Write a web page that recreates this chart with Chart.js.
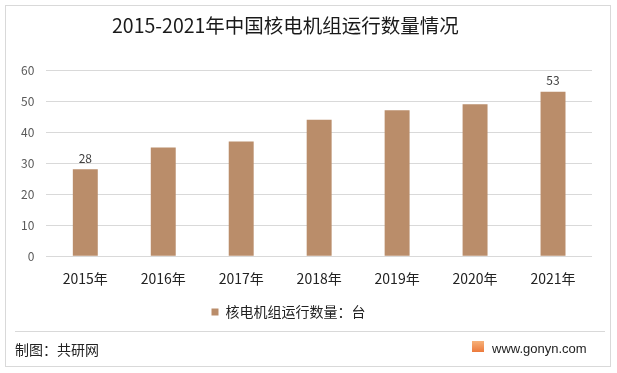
<!DOCTYPE html>
<html><head><meta charset="utf-8">
<script src="https://cdn.jsdelivr.net/npm/chart.js@4"></script>
<style>
html,body{margin:0;padding:0;background:#fff;}
body{width:617px;height:373px;position:relative;overflow:hidden;font-family:"Noto Sans CJK SC","Noto Sans",sans-serif;}
#frame{position:absolute;left:5px;top:5px;width:606px;height:362px;border:1px solid #D9D9D9;box-sizing:border-box;}
#title{position:absolute;left:112px;top:11px;font-size:19.5px;color:#1a1a1a;line-height:28px;white-space:nowrap;}
#sep{position:absolute;left:15px;top:331px;width:590px;height:1px;background:#D9D9D9;}
#src{position:absolute;left:15px;top:339px;font-size:14px;color:#222;line-height:20px;}
#site{position:absolute;left:492px;top:339px;font-size:13px;color:#222;line-height:20px;font-family:"Liberation Sans","DejaVu Sans",sans-serif;}
#icon{position:absolute;left:472px;top:341px;width:12px;height:11px;background:linear-gradient(#F7B27A,#EC7A3C);}
#wrap{position:absolute;left:0;top:0;width:617px;height:373px;}
</style></head>
<body>
<div id="frame"></div>
<div id="wrap"><canvas id="c" width="617" height="373"></canvas></div>
<div id="title">2015-2021年中国核电机组运行数量情况</div>
<div id="sep"></div>
<div id="src">制图：共研网</div>
<div id="icon"></div>
<div id="site">www.gonyn.com</div>
<script>
const categories = ["2015年","2016年","2017年","2018年","2019年","2020年","2021年"];
const seriesName = "核电机组运行数量：台";
const units = [28,35,37,44,47,49,53];
const labeledIndices = [0,6];
const yTicks = [0,10,20,30,40,50,60];

const valueLabels = {
  id:'valueLabels',
  afterDatasetsDraw(chart){
    const ctx = chart.ctx;
    const meta = chart.getDatasetMeta(0);
    ctx.save();
    ctx.font = '12px "Noto Sans CJK SC", sans-serif';
    ctx.fillStyle = '#404040';
    ctx.textAlign = 'center';
    ctx.textBaseline = 'bottom';
    labeledIndices.forEach(i=>{
      const el = meta.data[i];
      ctx.fillText(String(units[i]), el.x, el.y - 5);
    });
    ctx.restore();
  }
};

const legendShift = {
  id:'legendShift',
  afterLayout(chart){
    const lg = chart.legend;
    if (lg) { lg.left -= 12; lg.right -= 12; }
  }
};

new Chart(document.getElementById('c'),{
  type:'bar',
  data:{labels:categories,datasets:[{label:seriesName,data:units,backgroundColor:'#BA8D6A',borderWidth:0,barPercentage:0.64,categoryPercentage:0.5}]},
  options:{
    responsive:false,animation:false,
    layout:{padding:{left:9,right:25,top:70,bottom:44}},
    plugins:{
      legend:{position:'bottom',labels:{boxWidth:7,boxHeight:7,padding:12,color:'#222',font:{family:'"Noto Sans CJK SC", sans-serif',size:14}}},
      tooltip:{enabled:false},
      title:{display:false}
    },
    scales:{
      x:{grid:{display:false},border:{display:false},ticks:{padding:6,color:'#222',font:{family:'"Noto Sans CJK SC", sans-serif',size:14}}},
      y:{min:0,max:60,afterBuildTicks(ax){ax.ticks=yTicks.map(v=>({value:v}));},
         grid:{color:'#D9D9D9',drawTicks:false},border:{display:false},
         ticks:{padding:12,color:'#595959',font:{family:'"Noto Sans CJK SC", sans-serif',size:12}}}
    }
  },
  plugins:[valueLabels, legendShift]
});
</script>
</body></html>
